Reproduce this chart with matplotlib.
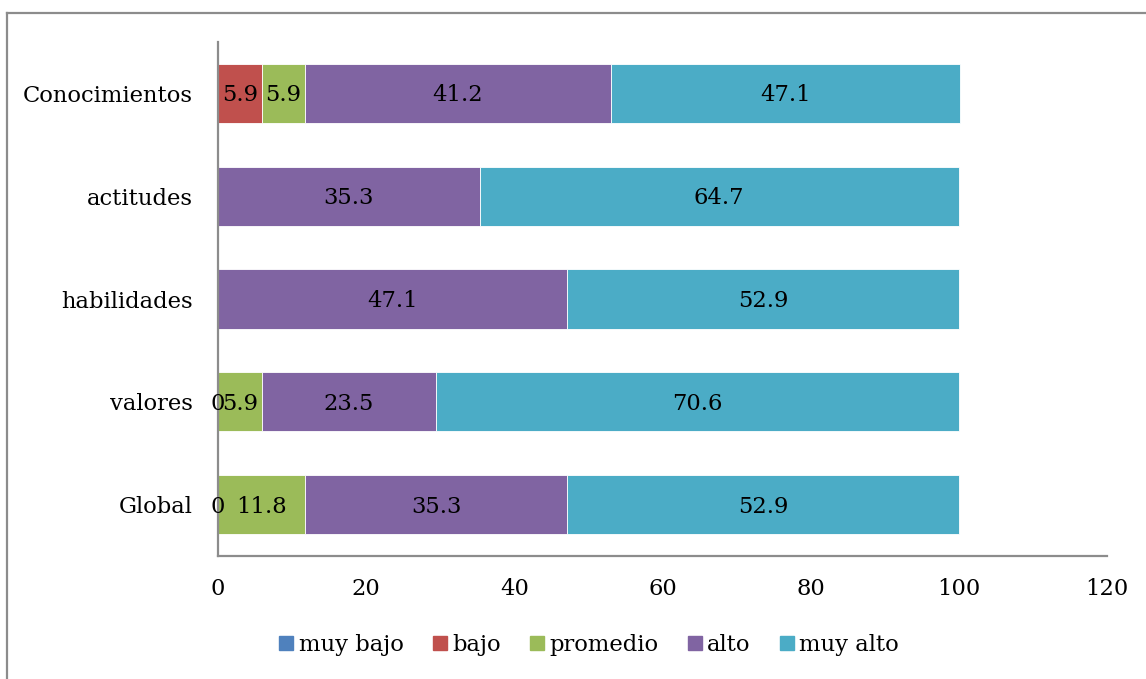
import matplotlib
matplotlib.use("Agg")
import matplotlib.pyplot as plt
from matplotlib.lines import Line2D
import numpy as np

categories = ["Conocimientos", "actitudes", "habilidades", "valores", "Global"]
series = ["muy bajo", "bajo", "promedio", "alto", "muy alto"]
nan = np.nan
muy_bajo = [nan, nan, nan, 0, 0]
bajo = [5.9, nan, nan, nan, nan]
promedio = [5.9, nan, nan, 5.9, 11.8]
alto = [41.2, 35.3, 47.1, 23.5, 35.3]
muy_alto = [47.1, 64.7, 52.9, 70.6, 52.9]
colors = ["#4F81BD", "#C0504D", "#9BBB59", "#8064A2", "#4BACC6"]
xticks = [0, 20, 40, 60, 80, 100, 120]

FONT = "DejaVu Serif"
FS = 16.3
plt.rcParams["font.family"] = [FONT]

fig = plt.figure(figsize=(11.46, 6.79), dpi=100)
ax = fig.add_axes([218/1146, 1-556/679, (1107-218)/1146, (556-42)/679])

data = [muy_bajo, bajo, promedio, alto, muy_alto]
y = np.arange(len(categories))
left = np.zeros(len(categories))
for vals, c, name in zip(data, colors, series):
    v = np.array(vals, dtype=float)
    w = np.nan_to_num(v)
    ax.barh(y, w, left=left, height=0.575, color=c, edgecolor="white",
            linewidth=0.6, label=name)
    for i, val in enumerate(v):
        if not np.isnan(val):
            ax.text(left[i] + w[i]/2, y[i] + 0.02, f"{val:g}", ha="center", va="center",
                    fontsize=FS, color="black")
    left = left + w

ax.set_ylim(len(categories)-0.5, -0.5)
ax.set_xlim(0, 120)
ax.set_yticks(y)
ax.set_yticklabels(categories, fontsize=FS)
ax.set_xticks(xticks)
ax.set_xticklabels([str(t) for t in xticks], fontsize=FS)
ax.tick_params(axis="both", length=0)
ax.tick_params(axis="y", pad=18)
ax.tick_params(axis="x", pad=16)
for s in ["top", "right"]:
    ax.spines[s].set_visible(False)
for s in ["left", "bottom"]:
    ax.spines[s].set_color("#8c8c8c")
    ax.spines[s].set_linewidth(1.6)

handles = [Line2D([0], [0], marker="s", linestyle="none", markersize=10.5,
                  markerfacecolor=c, markeredgecolor=c) for c in colors]
fig.legend(handles, series, loc="center", bbox_to_anchor=(587/1146, 1-645/679),
           ncol=5, frameon=False, fontsize=FS, handletextpad=0.05, columnspacing=1.1,
           handlelength=1.0)

# outer border
fig.add_artist(Line2D([7/1146, 7/1146], [0, 1-13/679], transform=fig.transFigure,
                      color="#8c8c8c", linewidth=1.6))
fig.add_artist(Line2D([7/1146, 1], [1-13/679, 1-13/679], transform=fig.transFigure,
                      color="#8c8c8c", linewidth=1.6))

fig.savefig("out.png", dpi=100)
